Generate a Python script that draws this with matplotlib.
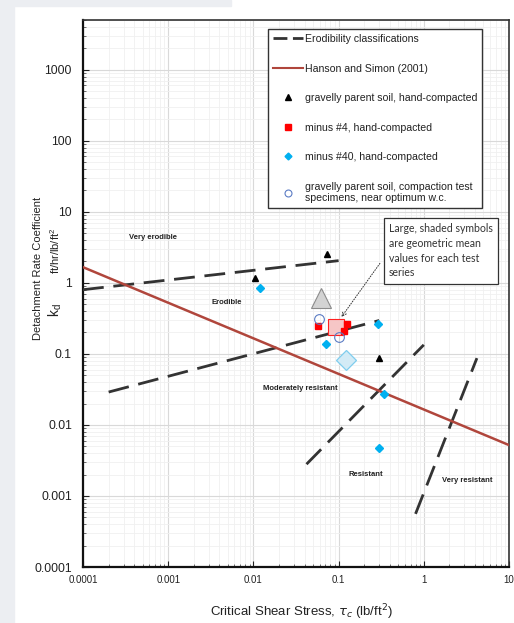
import matplotlib
matplotlib.use('Agg')
import matplotlib.pyplot as plt
from matplotlib.lines import Line2D
from matplotlib.patches import Rectangle
from matplotlib.ticker import FixedLocator, FixedFormatter, LogLocator, NullFormatter

# data (tau_c in lb/ft2, kd in ft/hr/lb/ft2)
tri_tau = [0.073, 0.0105, 0.30]
tri_kd = [2.57, 1.17, 0.088]
sq_tau = [0.058, 0.126, 0.115]
sq_kd = [0.25, 0.259, 0.213]
dia_tau = [0.0121, 0.0703, 0.29, 0.34, 0.30]
dia_kd = [0.84, 0.138, 0.265, 0.0273, 0.0048]
circ_tau = [0.059, 0.1016]
circ_kd = [0.311, 0.175]

# geometric means (large shaded symbols)
gm_tri = (0.0614, 0.615)
gm_sq = (0.093, 0.238)
gm_dia = (0.1216, 0.082)

# Hanson and Simon (2001)
hs_tau = [0.0001, 10]
hs_kd = [1.66, 0.0052]

# erodibility class boundaries
class_lines = [
    ([0.0001, 0.1], [0.80, 2.05]),
    ([0.0002, 0.3], [0.029, 0.295]),
    ([0.042, 1.0], [0.0028, 0.134]),
    ([0.8, 4.2], [0.00056, 0.087]),
]
class_labels = ['Very erodible', 'Erodible', 'Moderately resistant', 'Resistant', 'Very resistant']
class_label_pos = [(0.00035, 4.3), (0.0032, 0.53), (0.0128, 0.033), (0.132, 0.002), (1.64, 0.00164)]

xticks = [0.0001, 0.001, 0.01, 0.1, 1, 10]
xticklabels = ['0.0001', '0.001', '0.01', '0.1', '1', '10']
yticks = [0.0001, 0.001, 0.01, 0.1, 1, 10, 100, 1000]
yticklabels = ['0.0001', '0.001', '0.01', '0.1', '1', '10', '100', '1000']

plt.rcParams['font.family'] = ['Liberation Sans', 'DejaVu Sans']

fig = plt.figure(figsize=(5.14, 6.23), dpi=100)
fig.patches.append(Rectangle((0, 0), 14 / 514, 1, transform=fig.transFigure,
                             color='#eceef2', zorder=0))
fig.patches.append(Rectangle((0, 1 - 6 / 623), 0.45, 6 / 623, transform=fig.transFigure,
                             color='#eceef2', zorder=0))
ax = fig.add_axes([83 / 514, 56 / 623, 426 / 514, 547 / 623])
ax.set_xscale('log')
ax.set_yscale('log')
ax.set_xlim(0.0001, 10)
ax.set_ylim(0.0001, 5000)

ax.xaxis.set_major_locator(FixedLocator(xticks))
ax.xaxis.set_major_formatter(FixedFormatter(xticklabels))
ax.yaxis.set_major_locator(FixedLocator(yticks))
ax.yaxis.set_major_formatter(FixedFormatter(yticklabels))
ax.xaxis.set_minor_locator(LogLocator(base=10, subs=range(2, 10), numticks=20))
ax.yaxis.set_minor_locator(LogLocator(base=10, subs=range(2, 10), numticks=20))
ax.xaxis.set_minor_formatter(NullFormatter())
ax.yaxis.set_minor_formatter(NullFormatter())
ax.tick_params(axis='both', which='both', direction='in', color='#555555')
ax.tick_params(axis='both', which='major', length=4, width=0.8)
ax.tick_params(axis='both', which='minor', length=2, width=0.6)
ax.tick_params(axis='x', which='major', labelsize=7, pad=6, colors='#222222')
ax.tick_params(axis='y', which='major', labelsize=8.7, pad=8, colors='#222222')
ax.grid(True, which='major', color='#d9d9d9', lw=0.8)
ax.grid(True, which='minor', color='#f0f0f0', lw=0.6)
ax.set_axisbelow(True)
for side in ['left', 'bottom']:
    ax.spines[side].set_linewidth(1.6)
    ax.spines[side].set_color('#111111')
for side in ['top', 'right']:
    ax.spines[side].set_linewidth(1.2)
    ax.spines[side].set_color('#333333')

dash = (7.5, 3.5)
for xs, ys in class_lines:
    ax.plot(xs, ys, color='#333333', lw=2, dashes=dash, zorder=3)
ax.plot(hs_tau, hs_kd, color='#b0463c', lw=1.8, zorder=3)

for lab, (x, y) in zip(class_labels, class_label_pos):
    ax.text(x, y, lab, fontsize=5.5, fontweight='bold', color='#222222', va='center', ha='left')

ax.plot(*gm_tri, marker='^', ms=14, mfc='#d3d3d3', mec='#8c8c8c', mew=0.8, ls='none', zorder=4)
ax.plot(*gm_sq, marker='s', ms=11, mfc='#f6c6c6', mec='#ff2020', mew=0.8, ls='none', zorder=4)
ax.plot(*gm_dia, marker='D', ms=10, mfc='#d3ebf6', mec='#7fcdee', mew=0.9, ls='none', zorder=4)

ax.plot(tri_tau, tri_kd, marker='^', ms=5, color='black', ls='none', zorder=5)
ax.plot(sq_tau, sq_kd, marker='s', ms=5, color='#ff0000', ls='none', zorder=5)
ax.plot(dia_tau, dia_kd, marker='D', ms=4, color='#00b0f0', ls='none', zorder=5)
ax.plot(circ_tau, circ_kd, marker='o', ms=7, mfc='none', mec='#5b7cc4', mew=0.8, ls='none', zorder=5)

ax.annotate('Large, shaded symbols\nare geometric mean\nvalues for each test\nseries',
            xy=(0.108, 0.33), xytext=(0.718, 0.628), textcoords='axes fraction',
            ha='left', va='top', fontsize=7.6, family='Lato', color='#333333', linespacing=1.4,
            bbox=dict(boxstyle='square,pad=0.5', fc='white', ec='#333333', lw=0.9),
            arrowprops=dict(arrowstyle='->', color='#333333', lw=0.7, ls=':',
                            relpos=(0, 0.5), shrinkA=4, shrinkB=0),
            zorder=6)

handles = [
    Line2D([], [], color='#333333', lw=2, dashes=(5, 2)),
    Line2D([], [], color='#b0463c', lw=1.5),
    Line2D([], [], marker='^', ms=4.5, color='black', ls='none'),
    Line2D([], [], marker='s', ms=4.5, color='#ff0000', ls='none'),
    Line2D([], [], marker='D', ms=3.5, color='#00b0f0', ls='none'),
    Line2D([], [], marker='o', ms=5, mfc='none', mec='#5b7cc4', mew=0.8, ls='none'),
]
labels = [
    'Erodibility classifications',
    'Hanson and Simon (2001)',
    'gravelly parent soil, hand-compacted',
    'minus #4, hand-compacted',
    'minus #40, hand-compacted',
    'gravelly parent soil, compaction test\nspecimens, near optimum w.c.',
]
leg = ax.legend(handles, labels, loc='upper left', bbox_to_anchor=(0.434, 0.984),
                borderaxespad=0, fontsize=7.6, labelspacing=1.85, handlelength=2.8,
                handletextpad=0.2, borderpad=0.5, fancybox=False, framealpha=1,
                edgecolor='#333333')
leg.get_frame().set_linewidth(1.0)
for t in leg.get_texts():
    t.set_color('#222222')
    t.set_linespacing(1.15)

fig.text(301 / 514, 1 - 612 / 623, r'Critical Shear Stress, $\tau_c$ (lb/ft$^2$)',
         ha='center', va='center', fontsize=9.5, color='#222222')
fig.text(38 / 514, 1 - 268 / 623, 'Detachment Rate Coefficient', rotation=90,
         ha='center', va='center', fontsize=8, color='#222222')
fig.text(55 / 514, 1 - 310 / 623, r'k$_\mathregular{d}$', rotation=90,
         ha='center', va='center', fontsize=10, color='#222222')
fig.text(55 / 514, 1 - 251 / 623, r'ft/hr/lb/ft$^\mathregular{2}$', rotation=90,
         ha='center', va='center', fontsize=8, color='#222222')

fig.savefig('out.png', dpi=100)
